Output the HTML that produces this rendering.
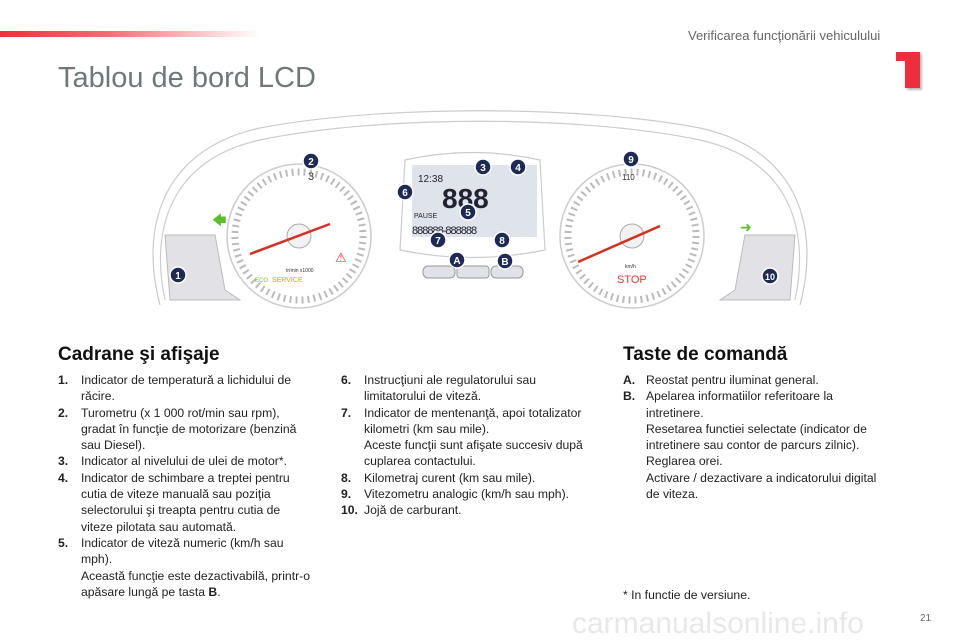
<!DOCTYPE html>
<html><head><meta charset="utf-8"><style>
body{margin:0;width:960px;height:640px;background:#fff;position:relative;overflow:hidden;font-family:"Liberation Sans",sans-serif;color:#222}
.a{position:absolute}
.bar{left:0;top:31px;width:260px;height:6px;background:linear-gradient(90deg,#f0303a,#f26a70 40%,rgba(255,255,255,0))}
.hdr{left:688px;top:28px;font-size:13px;color:#666}
.one{left:905px;top:52px;width:15px;height:36px;background:#ee2e3a;box-shadow:2px 2px 2px #bbb}
.one:before{content:"";position:absolute;left:-9px;top:0;width:10px;height:9px;background:#ee2e3a}
.title{left:58px;top:62px;font-size:29px;color:#6f7878}
h2{position:absolute;margin:0;font-size:19px;font-weight:bold;color:#111}
.l{position:absolute;font-size:12.2px;line-height:16.3px;color:#222}
.l div{position:relative;padding-left:23px}
.l b{position:absolute;left:0}
</style></head><body>
<div class="a bar"></div>
<div class="a hdr">Verificarea funcţionării vehiculului</div>
<div class="a one"></div>
<div class="a title">Tablou de bord LCD</div>

<svg class="a" style="left:0;top:0" width="960" height="330" viewBox="0 0 960 330">
<g fill="none" stroke="#ccc" stroke-width="1.2">
<path d="M165,300 C150,230 170,160 260,140 C380,115 580,115 700,140 C790,160 810,230 795,300"/>
<path d="M160,305 C140,230 160,150 260,128 C380,105 580,105 700,128 C800,150 820,230 800,305"/>
<path d="M405,160 Q472,145 540,160 L545,250 Q472,265 400,250 Z"/>
</g>
<path d="M165,235 L215,235 L225,290 L240,300 L170,300 Z" fill="#e2e2e6" stroke="#bbb"/>
<path d="M795,235 L745,235 L735,290 L720,300 L790,300 Z" fill="#e2e2e6" stroke="#bbb"/>
<text x="212" y="225" font-size="14" fill="#5bbf2a">🡄</text>
<text x="740" y="232" font-size="14" fill="#5bbf2a">➜</text>
<circle cx="299" cy="236" r="72" fill="#fff" stroke="#ccc" stroke-width="1.5"/>
<circle cx="299" cy="236" r="64" fill="none" stroke="#bbb" stroke-width="7" stroke-dasharray="2 4"/>
<circle cx="299" cy="236" r="12" fill="#f2f2f2" stroke="#aaa"/>
<line x1="250" y1="254" x2="330" y2="224" stroke="#d63020" stroke-width="2.5"/>
<text x="308" y="180" font-size="11" fill="#333">3</text>
<text x="286" y="272" font-size="5" fill="#333">tr/min x1000</text>
<text x="255" y="282" font-size="6" fill="#7c2">ECO</text>
<text x="272" y="282" font-size="7" fill="#f90">SERVICE</text>
<text x="335" y="262" font-size="13" fill="#e33">⚠</text>
<circle cx="632" cy="236" r="72" fill="#fff" stroke="#ccc" stroke-width="1.5"/>
<circle cx="632" cy="236" r="64" fill="none" stroke="#bbb" stroke-width="7" stroke-dasharray="2 4"/>
<circle cx="632" cy="236" r="12" fill="#f2f2f2" stroke="#aaa"/>
<line x1="578" y1="262" x2="660" y2="226" stroke="#d63020" stroke-width="2.5"/>
<text x="622" y="180" font-size="8" fill="#333">110</text>
<text x="625" y="268" font-size="5" fill="#333">km/h</text>
<text x="617" y="283" font-size="11" fill="#e33">STOP</text>
<rect x="412" y="165" width="125" height="72" fill="#dfe3ea"/>
<text x="418" y="182" font-size="10" fill="#223">12:38</text>
<text x="442" y="208" font-size="28" fill="#223" font-weight="bold">888</text>
<text x="414" y="218" font-size="7" fill="#223">PAUSE</text>
<text x="412" y="234" font-size="11" fill="#223" letter-spacing="-1">888888-888888</text>
<rect x="423" y="266" width="32" height="12" rx="5" fill="#e0e2e8" stroke="#999"/>
<rect x="457" y="266" width="32" height="12" rx="3" fill="#e0e2e8" stroke="#999"/>
<rect x="491" y="266" width="32" height="12" rx="5" fill="#e0e2e8" stroke="#999"/>
<g font-size="10" font-weight="bold" fill="#fff" text-anchor="middle">
<g stroke="#fff" stroke-width="1.5" fill="#1c2a55">
<circle cx="178" cy="275" r="8"/><circle cx="311" cy="161" r="8"/><circle cx="483" cy="167" r="8"/><circle cx="518" cy="167" r="8"/>
<circle cx="468" cy="212" r="8"/><circle cx="405" cy="192" r="8"/><circle cx="438" cy="240" r="8"/><circle cx="502" cy="240" r="8"/>
<circle cx="457" cy="260" r="8"/><circle cx="505" cy="261" r="8"/><circle cx="631" cy="159" r="8"/><circle cx="770" cy="276" r="8"/></g>
<text x="178" y="279">1</text><text x="311" y="165">2</text><text x="483" y="171">3</text><text x="518" y="171">4</text>
<text x="468" y="216">5</text><text x="405" y="196">6</text><text x="438" y="244">7</text><text x="502" y="244">8</text>
<text x="457" y="264">A</text><text x="505" y="265">B</text><text x="631" y="163">9</text><text x="770" y="280" font-size="9">10</text>
</g>
</svg>

<h2 style="left:58px;top:344px">Cadrane şi afişaje</h2>
<div class="l" style="left:58px;top:372px;width:252px">
<div><b>1.</b>Indicator de temperatură a lichidului de<br>răcire.</div>
<div><b>2.</b>Turometru (x 1 000 rot/min sau rpm), gradat în funcţie de motorizare (benzină sau Diesel).</div>
<div><b>3.</b>Indicator al nivelului de ulei de motor*.</div>
<div><b>4.</b>Indicator de schimbare a treptei pentru cutia de viteze manuală sau poziţia selectorului şi treapta pentru cutia de viteze pilotata sau automată.</div>
<div><b>5.</b>Indicator de viteză numeric (km/h sau mph).<br>Această funcţie este dezactivabilă, printr-o apăsare lungă pe tasta <strong>B</strong>.</div>
</div>
<div class="l" style="left:341px;top:372px;width:250px">
<div><b>6.</b>Instrucţiuni ale regulatorului sau<br>limitatorului de viteză.</div>
<div><b>7.</b>Indicator de mentenanţă, apoi totalizator kilometri (km sau mile).<br>Aceste funcţii sunt afişate succesiv după cuplarea contactului.</div>
<div><b>8.</b>Kilometraj curent (km sau mile).</div>
<div><b>9.</b>Vitezometru analogic (km/h sau mph).</div>
<div><b>10.</b>Jojă de carburant.</div>
</div>
<h2 style="left:623px;top:344px">Taste de comandă</h2>
<div class="l" style="left:623px;top:372px;width:268px">
<div><b>A.</b>Reostat pentru iluminat general.</div>
<div><b>B.</b>Apelarea informatiilor referitoare la<br>intretinere.<br>Resetarea functiei selectate (indicator de intretinere sau contor de parcurs zilnic).<br>Reglarea orei.<br>Activare / dezactivare a indicatorului digital de viteza.</div>
</div>
<div class="l" style="left:623px;top:587px">* In functie de versiune.</div>
<div class="a" style="left:920px;top:613px;font-size:10px;color:#666">21</div>
<div class="a" style="left:572px;top:607px;font-size:30px;color:#e8e8e8">carmanualsonline.info</div>
</body></html>
